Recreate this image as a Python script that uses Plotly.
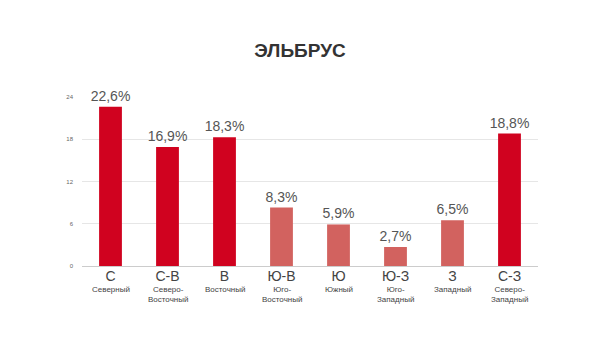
import plotly.graph_objects as go

codes = ["С", "С-В", "В", "Ю-В", "Ю", "Ю-З", "З", "С-З"]
names = ["Северный", "Северо-<br>Восточный", "Восточный", "Юго-<br>Восточный",
         "Южный", "Юго-<br>Западный", "Западный", "Северо-<br>Западный"]
values = [22.6, 16.9, 18.3, 8.3, 5.9, 2.7, 6.5, 18.8]
dark = "#D0021F"
light = "#D2625F"
colors = [dark, dark, dark, light, light, light, light, dark]
yticks = [0, 6, 12, 18, 24]

labels = [f"{v:.1f}%".replace(".", ",") for v in values]

fig = go.Figure(go.Bar(
    x=codes, y=values, marker_color=colors, marker_line_width=0,
    text=labels, textposition="outside", cliponaxis=False, constraintext="none",
    textfont=dict(size=14, color="#555555"),
))
for c, n in zip(codes, names):
    fig.add_annotation(x=c, xref="x", y=0, yref="paper", yanchor="top", yshift=-17,
                       text=n, showarrow=False,
                       font=dict(size=8, color="#444444"))
fig.update_layout(
    width=600, height=337,
    margin=dict(l=82, r=62, t=97, b=71),
    paper_bgcolor="white", plot_bgcolor="white",
    font=dict(family="Liberation Sans, Arial, sans-serif"),
    title=dict(text="<b>ЭЛЬБРУС</b>", x=0.5, xanchor="center", y=0.85, yanchor="middle",
               font=dict(size=19, color="#333333")),
    bargap=0.6,
    showlegend=False,
)
fig.update_xaxes(
    tickmode="array", tickvals=codes, ticktext=codes,
    tickfont=dict(size=14, color="#444444"), showgrid=False, ticks="",
    showline=True, linecolor="#cccccc", linewidth=1, ticklabelstandoff=-3,
)
fig.update_yaxes(
    range=[0, 24], tickvals=yticks, tickfont=dict(size=6, color="#666666"),
    showgrid=True, gridcolor="#e6e6e6", gridwidth=1, zeroline=False, ticks="",
    ticklabelstandoff=8,
)
fig.write_html("out.html")
